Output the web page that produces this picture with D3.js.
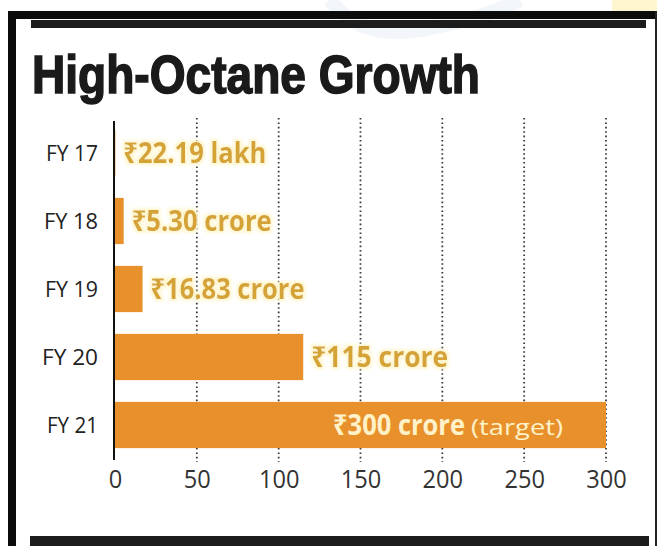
<!DOCTYPE html>
<html>
<head>
<meta charset="utf-8">
<script src="https://cdn.jsdelivr.net/npm/d3@7"></script>
<style>
  html, body { margin: 0; padding: 0; background: #fff; }
  svg { display: block; }
</style>
</head>
<body>
<script>
// Revenue by fiscal year, in ₹ crore (22.19 lakh = 0.2219 crore)
const categories = ["FY 17", "FY 18", "FY 19", "FY 20", "FY 21"];
const values = [0.2219, 5.30, 16.83, 115, 300];
const valueLabels = ["₹22.19 lakh", "₹5.30 crore", "₹16.83 crore", "₹115 crore", "₹300 crore"];
const labelNotes = ["", "", "", "", "(target)"];
const tickValues = [0, 50, 100, 150, 200, 250, 300];

const W = 657, H = 546;
const svg = d3.select("body").append("svg").attr("width", W).attr("height", H);

// faint watermark at the top edge
svg.append("path")
  .attr("d", "M330,0 Q360,40 420,30 T520,0")
  .attr("fill", "none").attr("stroke", "#e6eef5").attr("stroke-width", 14).attr("opacity", 0.5);
svg.append("rect").attr("x", 612).attr("y", 0).attr("width", 45).attr("height", 11).attr("fill", "#fdf6cf");

// frame
svg.append("rect").attr("x", 8).attr("y", 11).attr("width", W - 8).attr("height", 8).attr("fill", "#0b0b0b");
svg.append("rect").attr("x", 8).attr("y", 11).attr("width", 8).attr("height", H - 11).attr("fill", "#0b0b0b");
svg.append("rect").attr("x", 655).attr("y", 11).attr("width", 2).attr("height", H - 11).attr("fill", "#222");
svg.append("rect").attr("x", 31).attr("y", 20).attr("width", 615).attr("height", 8).attr("fill", "#1c1c1c");
svg.append("rect").attr("x", 30).attr("y", 536).attr("width", 619).attr("height", 10).attr("fill", "#1c1c1c");

// title
svg.append("text")
  .attr("x", 32).attr("y", 93)
  .attr("textLength", 448).attr("lengthAdjust", "spacingAndGlyphs")
  .attr("font-family", "'Liberation Sans', Arial, sans-serif")
  .attr("font-weight", 900).attr("font-size", 53)
  .attr("fill", "#1a1a1a").attr("stroke", "#1a1a1a").attr("stroke-width", 1.6)
  .text("High-Octane Growth");

const x = d3.scaleLinear().domain([0, 300]).range([115, 606]);
const y = d3.scaleBand().domain(categories).range([119, 459]).paddingInner(0.32).paddingOuter(0.16);

// dotted gridlines
svg.append("g").selectAll("line")
  .data(tickValues.filter(d => d > 0))
  .join("line")
  .attr("x1", d => x(d)).attr("x2", d => x(d))
  .attr("y1", 118).attr("y2", 462)
  .attr("stroke", "#3a3a3a").attr("stroke-width", 1.8)
  .attr("stroke-dasharray", "1.6,2.8");

// bars
svg.append("g").selectAll("rect")
  .data(categories)
  .join("rect")
  .attr("x", x(0))
  .attr("y", d => y(d))
  .attr("width", (d, i) => x(values[i]) - x(0))
  .attr("height", y.bandwidth())
  .attr("fill", "#E8912C");

// vertical baseline
svg.append("line")
  .attr("x1", x(0) - 1).attr("x2", x(0) - 1)
  .attr("y1", 121).attr("y2", 460)
  .attr("stroke", "#111").attr("stroke-width", 2);

// category labels
svg.append("g").selectAll("text")
  .data(categories)
  .join("text")
  .attr("x", 98)
  .attr("y", d => y(d) + y.bandwidth() / 2 + 8)
  .attr("text-anchor", "end")
  .attr("font-family", "'Open Sans', 'Noto Sans', sans-serif")
  .attr("font-size", 22)
  .attr("fill", "#222")
  .attr("textLength", (d, i) => [52, 54, 53, 56, 51][i])
  .attr("lengthAdjust", "spacingAndGlyphs")
  .text(d => d);

// soft light halo behind the value labels
const glow = svg.append("defs").append("filter").attr("id", "glow")
  .attr("x", "-10%").attr("y", "-30%").attr("width", "120%").attr("height", "160%");
glow.append("feMorphology").attr("in", "SourceAlpha").attr("operator", "dilate").attr("radius", 1.5).attr("result", "d");
glow.append("feGaussianBlur").attr("in", "d").attr("stdDeviation", 1.5).attr("result", "b");
glow.append("feFlood").attr("flood-color", "#fff6cf").attr("result", "c");
glow.append("feComposite").attr("in", "c").attr("in2", "b").attr("operator", "in").attr("result", "g");
const merge = glow.append("feMerge");
merge.append("feMergeNode").attr("in", "g");
merge.append("feMergeNode").attr("in", "SourceGraphic");

const outsideWidths = [143, 140, 154, 137];
svg.append("g").selectAll("text")
  .data(categories.slice(0, 4))
  .join("text")
  .attr("x", (d, i) => x(values[i]) + 8)
  .attr("y", d => y(d) + y.bandwidth() / 2 + 10)
  .attr("font-family", "'Open Sans', 'Noto Sans', sans-serif")
  .attr("font-weight", 700).attr("font-size", 28)
  .attr("fill", "#D4A235")
  .attr("filter", "url(#glow)")
  .attr("textLength", (d, i) => outsideWidths[i])
  .attr("lengthAdjust", "spacingAndGlyphs")
  .text((d, i) => valueLabels[i]);

// label inside the target bar
const last = categories.length - 1;
const inner = svg.append("text")
  .attr("y", y(categories[last]) + y.bandwidth() / 2 + 10)
  .attr("font-family", "'Open Sans', 'Noto Sans', sans-serif")
  .attr("fill", "#FFF1C8");
inner.append("tspan")
  .attr("x", 333)
  .attr("font-weight", 700).attr("font-size", 28)
  .attr("textLength", 132).attr("lengthAdjust", "spacingAndGlyphs")
  .text(valueLabels[last]);
inner.append("tspan")
  .attr("x", 471)
  .attr("font-weight", 400).attr("font-size", 21)
  .attr("textLength", 92).attr("lengthAdjust", "spacingAndGlyphs")
  .text(labelNotes[last]);

// x-axis tick labels
const axis = svg.append("g")
  .attr("transform", "translate(0,466)")
  .call(d3.axisBottom(x).tickValues(tickValues).tickSize(0).tickPadding(0));
axis.select(".domain").remove();
axis.selectAll("text")
  .attr("font-family", "'Open Sans', 'Noto Sans', sans-serif")
  .attr("font-size", 25)
  .attr("fill", "#333")
  .attr("dy", "0.88em")
  .attr("textLength", d => String(d).length * 13.5)
  .attr("lengthAdjust", "spacingAndGlyphs");
</script>
</body>
</html>
